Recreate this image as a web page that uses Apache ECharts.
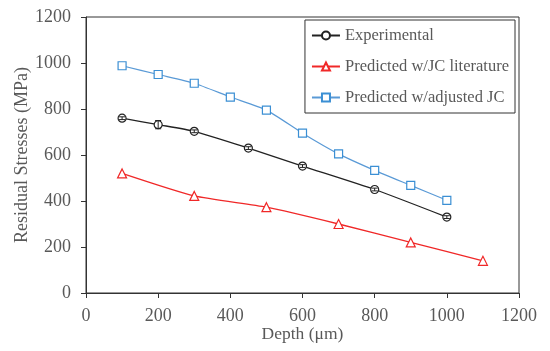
<!DOCTYPE html>
<html><head><meta charset="utf-8">
<script src="https://cdn.jsdelivr.net/npm/echarts@6/dist/echarts.min.js"></script>
<style>html,body{margin:0;padding:0;background:#fff}#c{width:550px;height:351px}</style>
</head><body><div id="c"></div>
<script>
const expDepth = [100, 200, 300, 450, 600, 800, 1000];
const expStress = [760, 732, 703, 630, 552, 450, 330];
const expErr = [6, 18, 6, 6, 6, 6, 6];
const litDepth = [100, 300, 500, 700, 900, 1100];
const litStress = [520, 422, 373, 300, 220, 140];
const adjDepth = [100, 200, 300, 400, 500, 600, 700, 800, 900, 1000];
const adjStress = [988, 950, 912, 852, 795, 695, 605, 533, 468, 403];

const font = '"Liberation Serif", "Times New Roman", serif';
const txt = '#595959';
const pairs = (xs, ys) => xs.map((x, i) => [x, ys[i]]);

const chart = echarts.init(document.getElementById('c'));
chart.setOption({
  animation: false,
  grid: {left: 86, right: 31, top: 17, bottom: 58, show: true, borderColor: '#333', borderWidth: 1,
         containLabel: false, outerBoundsMode: 'none'},
  legend: {
    right: 35, top: 20, orient: 'vertical', itemGap: 14,
    padding: [7, 6, 7, 6],
    borderColor: '#333', borderWidth: 1, backgroundColor: '#fff',
    itemWidth: 28, itemHeight: 10,
    textStyle: {fontFamily: font, fontSize: 16.5, color: txt},
    data: ['Experimental', 'Predicted w/JC literature', 'Predicted w/adjusted JC']
  },
  xAxis: {
    type: 'value', min: 0, max: 1200, interval: 200,
    name: 'Depth (μm)', nameLocation: 'middle', nameGap: 32, nameMoveOverlap: false,
    nameTextStyle: {fontFamily: font, fontSize: 17.5, color: txt},
    axisLine: {lineStyle: {color: '#333'}},
    axisTick: {show: true, inside: false, length: 5, lineStyle: {color: '#333'}},
    axisLabel: {fontFamily: font, fontSize: 18, color: txt, margin: 14, formatter: v => String(v)},
    splitLine: {show: false}
  },
  yAxis: {
    type: 'value', min: 0, max: 1200, interval: 200,
    name: 'Residual Stresses (MPa)', nameLocation: 'middle', nameGap: 55, nameMoveOverlap: false,
    nameTextStyle: {fontFamily: font, fontSize: 18, color: txt},
    axisLine: {show: true, lineStyle: {color: '#333'}},
    axisTick: {show: true, inside: false, length: 5, lineStyle: {color: '#333'}},
    axisLabel: {fontFamily: font, fontSize: 18, color: txt, margin: 15, formatter: v => String(v)},
    splitLine: {show: false}
  },
  series: [
    {
      name: 'Experimental', type: 'line', smooth: 0.2,
      data: pairs(expDepth, expStress),
      symbol: 'circle', symbolSize: 8,
      itemStyle: {color: '#fff', borderColor: '#222', borderWidth: 1.2},
      lineStyle: {color: '#222', width: 1.3}, z: 3
    },
    {
      name: 'Predicted w/JC literature', type: 'line', smooth: 0.2,
      data: pairs(litDepth, litStress),
      symbol: 'triangle', symbolSize: 9,
      itemStyle: {color: '#fff', borderColor: '#f02828', borderWidth: 1.2},
      lineStyle: {color: '#f02828', width: 1.3}
    },
    {
      name: 'Predicted w/adjusted JC', type: 'line', smooth: 0.2,
      data: pairs(adjDepth, adjStress),
      symbol: 'rect', symbolSize: 8,
      itemStyle: {color: '#fff', borderColor: '#3b8fd4', borderWidth: 1.2},
      lineStyle: {color: '#5a9ad6', width: 1.2}
    },
    {
      type: 'custom', z: 4, silent: true,
      data: expDepth.map((d, i) => [d, expStress[i], expErr[i]]),
      renderItem: function (params, api) {
        const x = api.value(0), y = api.value(1), e = api.value(2);
        const hi = api.coord([x, y + e]), lo = api.coord([x, y - e]);
        const s = {stroke: '#222', lineWidth: 1};
        return {type: 'group', children: [
          {type: 'line', shape: {x1: hi[0], y1: hi[1], x2: lo[0], y2: lo[1]}, style: s},
          {type: 'line', shape: {x1: hi[0] - 3, y1: hi[1], x2: hi[0] + 3, y2: hi[1]}, style: s},
          {type: 'line', shape: {x1: lo[0] - 3, y1: lo[1], x2: lo[0] + 3, y2: lo[1]}, style: s}
        ]};
      }
    }
  ]
});
</script></body></html>
